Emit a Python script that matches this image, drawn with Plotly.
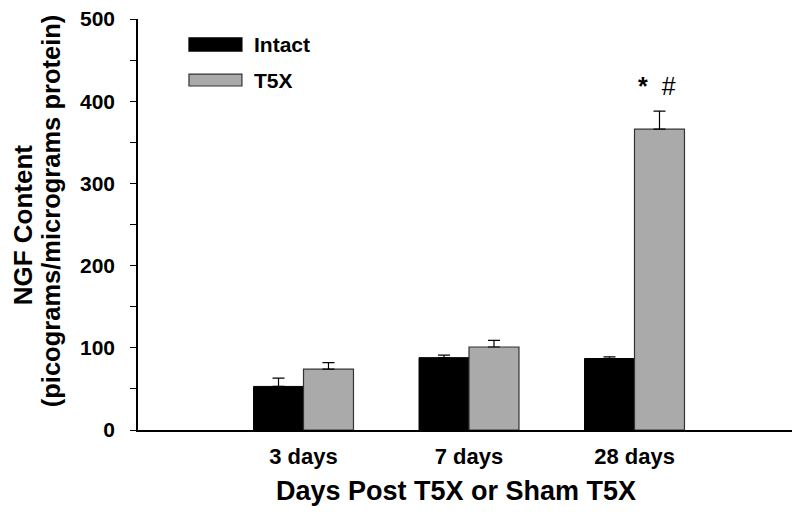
import plotly.graph_objects as go

categories = ["3 days", "7 days", "28 days"]
intact = [53, 88, 87]
intact_err = [10, 3, 2]
t5x = [74, 101, 366]
t5x_err = [8, 8, 22]
series_names = ["Intact", "T5X"]
y_ticks = [0, 100, 200, 300, 400, 500]
x_title = "Days Post T5X or Sham T5X"
y_title_lines = ["NGF Content", "(picograms/micrograms protein)"]

FONT = "Arial, Liberation Sans, Helvetica, sans-serif"
BLACK = "#000000"
GREY = "#aaaaaa"

fig = go.Figure()
fig.add_trace(go.Bar(
    x=categories, y=intact, name=series_names[0],
    marker=dict(color=BLACK, line=dict(color=BLACK, width=1)),
    error_y=dict(type="data", symmetric=False, array=intact_err,
                 arrayminus=[0] * len(intact_err), color=BLACK, thickness=1.2, width=6),
    showlegend=False,
))
fig.add_trace(go.Bar(
    x=categories, y=t5x, name=series_names[1],
    marker=dict(color=GREY, line=dict(color="#333333", width=1.2)),
    error_y=dict(type="data", symmetric=False, array=t5x_err,
                 arrayminus=[0] * len(t5x_err), color=BLACK, thickness=1.2, width=6),
    showlegend=False,
))

# manual legend (wide swatches like the original)
legend_items = [(series_names[0], BLACK, BLACK, 0.954, 0.922),
                (series_names[1], GREY, "#333333", 0.866, 0.837)]
for name, fill, edge, y1, y0 in legend_items:
    fig.add_shape(type="rect", xref="paper", yref="paper",
                  x0=0.077, x1=0.157, y0=y0, y1=y1,
                  fillcolor=fill, line=dict(color=edge, width=1.2))
    fig.add_annotation(xref="paper", yref="paper", x=0.172, y=(y0 + y1) / 2,
                       text=name, showarrow=False, xanchor="left", yanchor="middle",
                       font=dict(family=FONT, size=21, color=BLACK, weight="bold"))

# significance marks above the 28-day T5X bar
fig.add_annotation(x=categories[2], y=t5x[2] + t5x_err[2] + 31, xshift=22,
                   text="<b>*</b>  #", showarrow=False, yanchor="middle",
                   font=dict(family=FONT, size=25, color=BLACK))

# axis titles as annotations (placed like the original, kept inside the page)
fig.add_annotation(xref="paper", yref="paper", x=0.481, y=-0.148,
                   text=x_title, showarrow=False, xanchor="center", yanchor="middle",
                   font=dict(family=FONT, size=27, color=BLACK, weight="bold"))
fig.add_annotation(xref="paper", yref="paper", x=-0.174, y=0.5, textangle=-90,
                   text=y_title_lines[0], showarrow=False, xanchor="center", yanchor="middle",
                   font=dict(family=FONT, size=26, color=BLACK, weight="bold"))
fig.add_annotation(xref="paper", yref="paper", x=-0.131, y=0.533, textangle=-90,
                   text=y_title_lines[1], showarrow=False, xanchor="center", yanchor="middle",
                   font=dict(family=FONT, size=25.5, color=BLACK, weight="bold"))

# page has an 8px body margin: figure is sized so the page fits the 800x514 window
fig.update_layout(
    width=792, height=498,
    margin=dict(l=130, r=0, t=11, b=76, autoexpand=False),
    paper_bgcolor="white", plot_bgcolor="white",
    barmode="group", bargap=0.396, bargroupgap=0,
    font=dict(family=FONT, color=BLACK),
    xaxis=dict(
        type="category", range=[-1, 3],
        showline=True, linecolor=BLACK, linewidth=1.5,
        ticks="", showgrid=False, zeroline=False,
        tickfont=dict(family=FONT, size=22, color=BLACK, weight="bold"),
        ticklabelstandoff=6,
    ),
    yaxis=dict(
        range=[0, 500], tickvals=y_ticks,
        showline=True, linecolor=BLACK, linewidth=1.5,
        ticks="outside", ticklen=6, tickwidth=1.2, tickcolor=BLACK,
        minor=dict(dtick=50, ticks="outside", ticklen=6, tickwidth=1.2, tickcolor=BLACK, showgrid=False),
        showgrid=False, zeroline=False,
        tickfont=dict(family=FONT, size=21, color=BLACK, weight="bold"),
        ticklabelstandoff=11, ticklabeloverflow="allow",
    ),
)

fig.write_html("out.html")
